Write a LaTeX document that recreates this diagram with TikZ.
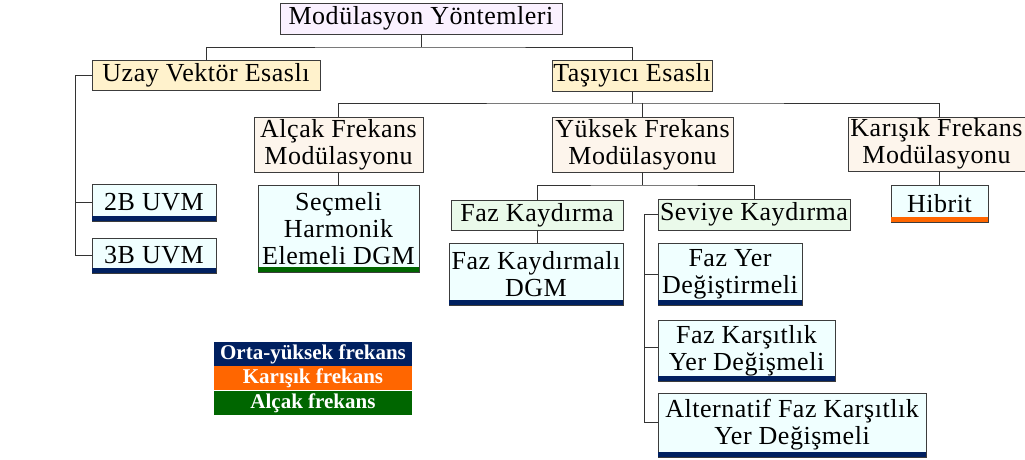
\documentclass[tikz,border=0pt]{standalone}
\usepackage{fontspec}
\setmainfont{Liberation Serif}
\newfontfamily\boxfont{Liberation Serif}[LetterSpace=2]
\usetikzlibrary{positioning,calc}
\definecolor{lilacfill}{RGB}{250,241,255}
\definecolor{sandfill}{RGB}{255,242,204}
\definecolor{peachfill}{RGB}{253,245,236}
\definecolor{mintfill}{RGB}{234,250,234}
\definecolor{icefill}{RGB}{240,255,255}
\definecolor{navybar}{RGB}{0,32,96}
\definecolor{orangebar}{RGB}{255,102,0}
\definecolor{greenbar}{RGB}{0,102,0}
\definecolor{edgegray}{RGB}{60,60,60}

\begin{document}
\begin{tikzpicture}[x=1pt, y=-1pt,
  box/.style={draw=edgegray, line width=0.9pt, inner xsep=1pt, inner ysep=0pt, align=center,
    font=\boxfont\fontsize{26}{27}\selectfont},
  rootbox/.style={box, fill=lilacfill},
  kindbox/.style={box, fill=sandfill},
  freqbox/.style={box, fill=peachfill},
  subbox/.style={box, fill=mintfill},
  leafbox/.style={box, fill=icefill},
  legbox/.style={minimum width=198pt, minimum height=24pt, inner sep=0pt, text=white,
    font=\bfseries\fontsize{21}{22}\selectfont},
  link/.style={draw=black!80, line width=0.9pt}]
  \useasboundingbox (0,0) rectangle (1025,459);

  % levels 0-1
  \node[rootbox, minimum width=282pt, minimum height=31pt] (root) at (421,18.5) {Modülasyon Yöntemleri};
  \node[kindbox, minimum width=228pt, minimum height=30pt] (uzay) at (206,75) {Uzay Vektör Esaslı};
  \node[kindbox, minimum width=160pt, minimum height=31pt] (tasiyici) at (632,75.5) {Taşıyıcı Esaslı};

  % uzay vektor branch
  \node[leafbox, minimum width=124pt, minimum height=37pt] (uvm2) at (154,202.5) {2B UVM};
  \node[leafbox, minimum width=124pt, minimum height=35pt] (uvm3) at (154,255.5) {3B UVM};

  % tasiyici branch
  \node[freqbox, minimum width=169pt, minimum height=55pt] (alcak) at (338.5,144.5) {Alçak Frekans\\Modülasyonu};
  \node[freqbox, minimum width=181pt, minimum height=55pt] (yuksek) at (642.5,144.5) {Yüksek Frekans\\Modülasyonu};
  \node[freqbox, minimum width=177pt, minimum height=54pt] (karisik) at (936.5,144) {Karışık Frekans\\Modülasyonu};
  \node[leafbox, minimum width=161pt, minimum height=87pt] (secmeli) at (338.5,228.5) {Seçmeli\\Harmonik\\Elemeli DGM};
  \node[leafbox, minimum width=97pt, minimum height=37pt] (hibrit) at (939.5,203.5) {Hibrit};
  \node[subbox, minimum width=172pt, minimum height=30pt] (fazk) at (537,215) {Faz Kaydırma};
  \node[subbox, minimum width=192pt, minimum height=31pt] (seviye) at (754,214.5) {Seviye Kaydırma};
  \node[leafbox, minimum width=174pt, minimum height=62pt] (fazdgm) at (536,274) {Faz Kaydırmalı\\DGM};
  \node[leafbox, minimum width=144pt, minimum height=62pt] (fazyer) at (730,274) {Faz Yer\\Değiştirmeli};
  \node[leafbox, minimum width=177pt, minimum height=61pt] (karsitlik) at (746.5,350.5) {Faz Karşıtlık\\Yer Değişmeli};
  \node[leafbox, minimum width=268pt, minimum height=64pt] (alternatif) at (792,425) {Alternatif Faz Karşıtlık\\Yer Değişmeli};

  % colour bars under the leaves
  \foreach \n/\c in {uvm2/navybar, uvm3/navybar, secmeli/greenbar, fazdgm/navybar,
      fazyer/navybar, karsitlik/navybar, alternatif/navybar, hibrit/orangebar}
    \fill[\c] (\n.south west) rectangle ([yshift=5pt]\n.south east);

  % connectors
  \coordinate (busA) at (0,47);
  \coordinate (busB) at (0,103);
  \coordinate (busC) at (0,185);
  \draw[link] (root.south) -- (root.south |- busA);
  \draw[link] (uzay.north) |- (root.south |- busA) -| (tasiyici.north);
  \draw[link] (tasiyici.south) -- (tasiyici.south |- busB);
  \draw[link] (alcak.north) |- (tasiyici.south |- busB) -| ([xshift=3pt]karisik.north);
  \draw[link] (yuksek.north) -- (yuksek.north |- busB);
  \draw[link] (alcak.south) -- (secmeli.north);
  \draw[link] ([xshift=3pt]karisik.south) -- (hibrit.north);
  \draw[link] (yuksek.south) -- (yuksek.south |- busC);
  \draw[link] (fazk.north) |- (yuksek.south |- busC) -| (seviye.north);
  \draw[link] (fazk.south) -- (fazk.south |- fazdgm.north);
  \coordinate (uzayrail) at ([xshift=-16pt]uzay.west);
  \draw[link] (uzay.west) -- (uzayrail) |- (uvm3.west);
  \draw[link] (uzayrail |- uvm2.west) -- (uvm2.west);
  \coordinate (sevrail) at ([xshift=-13pt]seviye.west);
  \draw[link] (seviye.west) -- (sevrail) |- ([yshift=3pt]alternatif.west);
  \draw[link] (sevrail |- fazyer.west) -- (fazyer.west);
  \draw[link] ([yshift=3pt]sevrail |- karsitlik.west) -- ([yshift=3pt]karsitlik.west);

  % legend
  \node[legbox, fill=navybar] (leghigh) at (313,354) {Orta-yüksek frekans};
  \node[legbox, fill=orangebar, below=0pt of leghigh] (legmix) {Karışık frekans};
  \node[legbox, fill=greenbar, below=0pt of legmix] (leglow) {Alçak frekans};
\end{tikzpicture}
\end{document}
